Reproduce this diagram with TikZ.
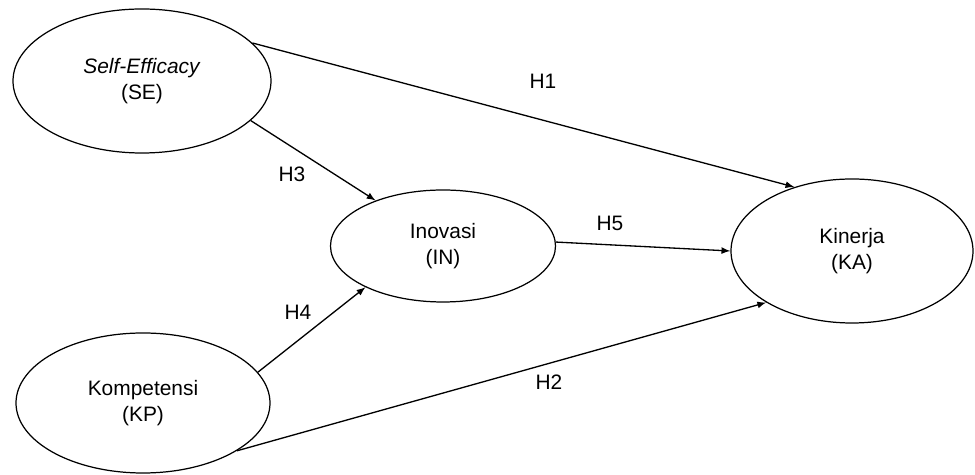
\documentclass[tikz,border=0pt]{standalone}
\usepackage{fontspec}
\setmainfont{Liberation Sans}
\usetikzlibrary{arrows,shapes.geometric}

\tikzset{
  var/.style={draw, ellipse, line width=0.7pt, inner sep=0pt, align=center, font=\fontsize{11.9}{15}\selectfont},
  hyp/.style={inner sep=0pt, font=\fontsize{11.9}{14}\selectfont},
  pathline/.style={-latex, line width=0.75pt}
}

\begin{document}
\begin{tikzpicture}
\useasboundingbox (0,0) rectangle (19.5,9.5);

\node[var, minimum width=5.16cm, minimum height=2.88cm] (se) at (2.84,7.88) {\textit{Self-Efficacy}\\(SE)};
\node[var, minimum width=5.08cm, minimum height=2.80cm] (kp) at (2.86,1.44) {Kompetensi\\(KP)};
\node[var, minimum width=4.50cm, minimum height=2.24cm] (in) at (8.86,4.58) {Inovasi\\(IN)};
\node[var, minimum width=4.84cm, minimum height=2.88cm] (ka) at (17.04,4.48) {Kinerja\\(KA)};



\draw [pathline](se.19) -- (ka.132);
\node[hyp] (h1) at (10.86,7.88) {H1};


\draw [pathline](kp.333) -- (ka.211);
\node[hyp] (h2) at (10.98,1.86) {H2};


\draw [pathline](se.340) -- (in.146);
\node[hyp] (h3) at (5.84,6.02) {H3};

\draw [pathline](kp.15) -- (in.208);
\node[hyp] (h4) at (5.96,3.26) {H4};

\draw [pathline](in.2) -- (ka.180);
\node[hyp] (h5) at (12.2,5.04) {H5};
\end{tikzpicture}
\end{document}
